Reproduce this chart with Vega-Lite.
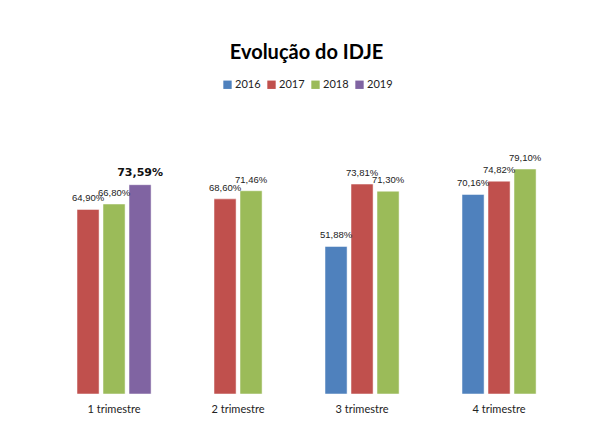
{
  "$schema": "https://vega.github.io/schema/vega-lite/v6.json",
  "background": "white",
  "padding": {"left": 71, "top": 43, "right": 60, "bottom": 28},
  "bounds": "flush",
  "title": {"text": "Evolução do IDJE", "anchor": "middle", "font": "Lato", "fontSize": 20, "fontWeight": "bold", "color": "#000000", "offset": 16},
  "data": {
    "values": [
      {"trimestre": "1 trimestre", "ano": "2017", "valor": 0.6490},
      {"trimestre": "1 trimestre", "ano": "2018", "valor": 0.6680},
      {"trimestre": "1 trimestre", "ano": "2019", "valor": 0.7359},
      {"trimestre": "2 trimestre", "ano": "2017", "valor": 0.6860},
      {"trimestre": "2 trimestre", "ano": "2018", "valor": 0.7146},
      {"trimestre": "3 trimestre", "ano": "2016", "valor": 0.5188},
      {"trimestre": "3 trimestre", "ano": "2017", "valor": 0.7381},
      {"trimestre": "3 trimestre", "ano": "2018", "valor": 0.7130},
      {"trimestre": "4 trimestre", "ano": "2016", "valor": 0.7016},
      {"trimestre": "4 trimestre", "ano": "2017", "valor": 0.7482},
      {"trimestre": "4 trimestre", "ano": "2018", "valor": 0.7910}
    ]
  },
  "facet": {
    "column": {
      "field": "trimestre", "type": "nominal", "title": null,
      "header": {"labelOrient": "bottom", "labelFont": "Lato", "labelFontSize": 11, "labelColor": "#222222", "labelPadding": 10}
    }
  },
  "spacing": 62,
  "spec": {
    "width": {"step": 26},
    "height": 256,
    "layer": [
      {
        "mark": {"type": "bar", "stroke": "white", "strokeWidth": 0.5},
        "encoding": {
          "x": {"field": "ano", "type": "nominal", "axis": null, "scale": {"paddingInner": 0.15, "paddingOuter": 0}},
          "y": {"field": "valor", "type": "quantitative", "axis": null, "scale": {"domain": [0, 0.90]}},
          "color": {
            "field": "ano", "type": "nominal",
            "scale": {"domain": ["2016", "2017", "2018", "2019"], "range": ["#4F81BD", "#C0504D", "#9BBB59", "#8064A2"]},
            "legend": {
              "title": null, "orient": "none", "direction": "horizontal",
              "legendX": 145, "legendY": -59,
              "symbolType": "square", "symbolSize": 70, "symbolStrokeWidth": 0,
              "labelFont": "Lato", "labelFontSize": 11, "labelColor": "#222222",
              "labelOffset": 2, "columnPadding": 5
            }
          }
        }
      },
      {
        "transform": [{"filter": "datum.ano != '2019'"}],
        "mark": {"type": "text", "baseline": "middle", "dy": -11, "font": "Liberation Sans", "fontSize": 9.5, "color": "#222222"},
        "encoding": {
          "x": {"field": "ano", "type": "nominal"},
          "y": {"field": "valor", "type": "quantitative"},
          "text": {"field": "valor", "type": "quantitative", "format": ".2%"}
        }
      },
      {
        "transform": [{"filter": "datum.ano == '2019'"}],
        "mark": {"type": "text", "baseline": "middle", "dy": -12, "font": "DejaVu Sans", "fontSize": 11, "fontWeight": "bold", "color": "#111111"},
        "encoding": {
          "x": {"field": "ano", "type": "nominal"},
          "y": {"field": "valor", "type": "quantitative"},
          "text": {"field": "valor", "type": "quantitative", "format": ".2%"}
        }
      }
    ]
  },
  "resolve": {"scale": {"x": "independent"}},
  "config": {
    "view": {"stroke": null},
    "locale": {"number": {"decimal": ",", "thousands": ".", "grouping": [3], "currency": ["R$", ""]}}
  }
}
